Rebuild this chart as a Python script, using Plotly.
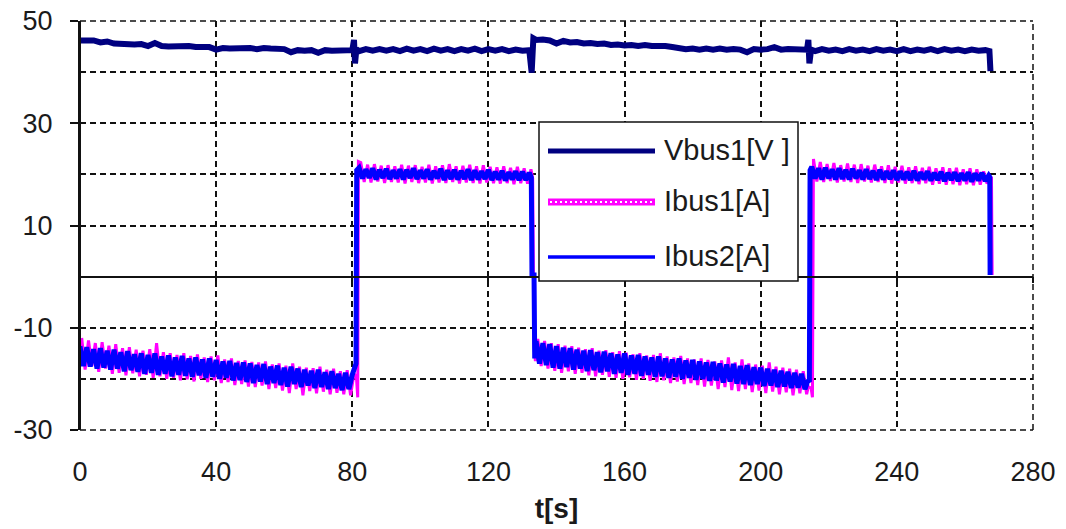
import plotly.graph_objects as go

# ---------------- data ----------------
X_TICKS = [0, 40, 80, 120, 160, 200, 240, 280]
Y_TICKS = [-30, -10, 10, 30, 50]
SERIES_NAMES = ["Vbus1[V ]", "Ibus1[A]", "Ibus2[A]"]

# Vbus1 : regular pieces (start time, step, values) and transition points
VBUS_A = [46.2, 46.1, 46.2, 45.8, 46.0, 45.6, 45.5, 45.6, 45.4, 45.5, 45.1, 45.7, 45.1, 45.0,
          45.1, 45.0, 45.1, 44.9, 45.0, 44.9, 44.4, 44.7, 44.6, 44.7, 44.6, 44.7, 44.5, 44.7,
          44.6, 44.6, 44.5, 43.9, 44.3, 44.2, 44.3, 43.8, 44.3, 44.2, 44.3, 44.2, 44.3]
VBUS_SPIKE1_T = [80.5, 80.8, 81.2]
VBUS_SPIKE1 = [46.3, 41.7, 44.5]
VBUS_B = [44.1, 44.5, 44.2, 44.5, 44.2, 44.5, 44.1, 44.6, 44.2, 44.5, 44.1, 44.6, 44.2, 44.5,
          44.1, 44.5, 44.2, 44.6, 44.1, 44.5, 44.2, 44.5, 44.1, 44.4, 44.2, 44.3]
VBUS_DROP1_T = [132.7, 133.2]
VBUS_DROP1 = [39.9, 46.6]
VBUS_C = [46.3, 46.4, 46.2, 45.6, 46.1, 45.8, 45.9, 45.6, 45.7, 45.5, 45.6, 45.3, 45.4, 45.2,
          45.3, 45.1, 45.3, 45.1, 45.2, 45.1, 44.9, 44.6, 44.5, 44.6, 44.4, 44.6, 44.4, 44.6,
          44.4, 44.5, 44.4, 43.9, 44.5, 44.4, 44.5, 44.9, 44.4, 44.5, 44.4, 44.4]
VBUS_SPIKE2_T = [213.6, 214.0, 214.3, 214.8]
VBUS_SPIKE2 = [44.4, 46.3, 41.7, 44.4]
VBUS_D = [44.1, 44.5, 44.2, 44.4, 44.1, 44.5, 44.2, 44.4, 44.1, 44.5, 44.2, 44.4, 44.1, 44.5,
          44.1, 44.4, 44.2, 44.5, 44.1, 44.5, 44.2, 44.4, 44.1, 44.4, 44.2, 44.3]
VBUS_END_T = [267.2, 267.5]
VBUS_END = [44.1, 40.2]

# Ibus2 (blue)
IBUS2_A = [-13.6, -17.5, -13.8, -17.6, -14.2, -18.0, -14.0, -17.8, -14.5, -18.2,
           -14.3, -18.0, -14.8, -18.5, -14.6, -18.3, -15.2, -18.6, -15.0, -19.0,
           -15.3, -18.8, -15.0, -19.2, -15.6, -19.0, -15.4, -19.5, -15.8, -19.2,
           -15.5, -19.4, -16.0, -19.6, -15.8, -19.3, -16.2, -19.8, -16.0, -19.6,
           -16.3, -20.0, -16.6, -19.8, -16.5, -20.3, -16.9, -20.2, -16.8, -20.6,
           -17.0, -20.8, -17.3, -20.5, -17.1, -21.0, -17.6, -20.8, -17.4, -21.2,
           -17.8, -21.5, -17.6, -21.0, -18.0, -21.6, -18.2, -21.3, -18.4, -21.8,
           -18.2, -21.6, -18.7, -22.0, -18.5, -21.8, -19.0, -22.2, -18.8, -22.0,
           -19.2]
IBUS2_JUMP1_T = [80.7, 81.1, 81.3]
IBUS2_JUMP1 = [-17.3, -17.0, 20.8]
IBUS2_B = [21.3, 19.2, 21.0, 19.3, 21.2, 19.0, 20.9, 19.3, 21.1, 19.1,
           20.8, 19.2, 21.0, 19.0, 20.9, 19.3, 21.2, 19.1, 20.8, 19.2,
           21.0, 19.0, 20.7, 19.2, 21.1, 18.9, 20.8, 19.1, 20.9, 19.0,
           20.7, 19.1, 21.0, 18.9, 20.8, 19.0, 20.6, 19.1, 20.9, 18.9,
           20.5, 19.0, 20.7, 18.8, 20.4, 19.0, 20.6, 18.9, 20.5, 18.9, 20.3]
IBUS2_DROP1_T = [132.6, 132.8, 133.4, 133.6]
IBUS2_DROP1 = [19.4, 0.3, 0.3, -16.0]
IBUS2_C = [-12.6, -17.0, -13.0, -17.3, -13.2, -17.8, -13.6, -18.0, -13.9, -17.7,
           -14.0, -18.2, -14.3, -18.0, -14.5, -18.5, -14.4, -18.3, -14.8, -18.7,
           -14.7, -18.5, -15.0, -19.0, -15.2, -18.8, -15.0, -19.2, -15.4, -19.0,
           -15.3, -19.4, -15.6, -19.2, -15.8, -19.6, -15.6, -19.5, -16.0, -19.8,
           -16.2, -19.6, -16.0, -20.0, -16.4, -19.8, -16.3, -20.2, -16.6, -20.0,
           -16.8, -20.4, -16.7, -20.3, -17.0, -20.7, -17.2, -20.5, -17.1, -20.9,
           -17.5, -21.0, -17.3, -21.2, -17.7, -21.0, -17.8, -21.4, -18.0, -21.3,
           -18.2, -21.6, -18.4, -21.5, -18.6, -21.8, -18.8, -21.7, -19.0, -22.0]
IBUS2_JUMP2_T = [213.8, 214.3, 214.5]
IBUS2_JUMP2 = [-20.5, -20.3, 20.8]
IBUS2_D = [21.5, 19.2, 21.2, 19.0, 21.3, 19.2, 21.0, 19.0, 21.2, 19.1,
           20.9, 19.0, 21.1, 19.2, 20.8, 19.0, 21.0, 19.1, 20.7, 18.9,
           20.9, 19.0, 20.6, 19.1, 20.8, 18.9, 20.6, 19.0, 20.5, 18.9,
           20.7, 18.8, 20.4, 19.0, 20.6, 18.8, 20.3, 18.9, 20.5, 18.7,
           20.3, 18.9, 20.4, 18.7, 20.2, 18.8, 20.4, 18.6, 20.2, 18.8,
           20.3, 18.7, 19.8]
IBUS2_END_T = [267.3, 267.4]
IBUS2_END = [19.5, 0.3]

# Ibus1 (magenta)
IBUS1_A = [-12.0, -18.2, -12.5, -17.5, -13.0, -18.6, -12.8, -18.0, -13.5, -19.0,
           -13.2, -18.8, -14.0, -19.3, -13.8, -18.9, -14.3, -19.5, -14.5, -19.2,
           -14.2, -19.8, -13.0, -19.5, -14.8, -20.0, -15.0, -19.8, -15.3, -20.3,
           -15.0, -20.1, -15.5, -20.5, -15.2, -20.0, -15.8, -20.6, -15.6, -20.3,
           -15.4, -20.8, -16.2, -20.6, -16.0, -21.2, -16.5, -21.0, -16.4, -21.5,
           -16.7, -21.6, -16.8, -21.3, -16.6, -22.0, -17.2, -21.8, -17.0, -22.3,
           -17.4, -22.8, -17.0, -22.0, -17.6, -23.2, -17.8, -22.4, -17.9, -22.8,
           -17.6, -22.5, -18.2, -23.0, -18.0, -22.7, -18.5, -23.0, -18.3, -23.2]
IBUS1_JUMP1_T = [80.5, 81.2, 81.6, 81.8]
IBUS1_JUMP1 = [-19.0, -19.5, -23.6, 22.5]
IBUS1_B = [22.3, 18.5, 21.9, 18.4, 22.0, 18.6, 21.7, 18.3, 21.8, 18.5,
           21.6, 18.4, 21.9, 18.2, 21.7, 18.5, 21.8, 18.3, 21.5, 18.4,
           21.9, 18.2, 21.6, 18.4, 21.8, 18.3, 22.0, 18.5, 21.6, 18.2,
           21.7, 18.4, 21.9, 18.3, 21.6, 18.2, 21.8, 18.4, 21.5, 18.3,
           21.4, 18.2, 21.6, 18.3, 21.3, 18.1, 21.5, 18.3, 21.2, 18.2, 21.0]
IBUS1_DROP1_T = [133.0, 133.4, 133.8]
IBUS1_DROP1 = [19.2, -14.0, -16.5]
IBUS1_C = [-12.2, -17.5, -12.6, -18.0, -13.0, -18.4, -13.2, -18.8, -13.5, -18.5,
           -13.6, -19.0, -13.9, -18.8, -14.2, -19.3, -14.0, -19.5, -14.5, -19.2,
           -14.4, -19.6, -14.8, -19.8, -14.6, -20.0, -14.9, -19.7, -15.2, -20.2,
           -15.0, -20.0, -15.4, -20.4, -15.3, -20.6, -15.0, -20.3, -15.6, -20.8,
           -15.8, -20.5, -15.5, -21.0, -16.0, -20.8, -16.2, -21.2, -16.0, -21.5,
           -16.3, -21.3, -16.6, -22.0, -16.4, -21.6, -15.8, -22.2, -16.8, -22.4,
           -16.2, -22.0, -17.0, -22.6, -17.2, -22.3, -17.4, -22.8, -16.8, -22.5,
           -17.6, -23.0, -17.8, -22.6, -18.0, -23.2, -18.2, -22.8, -18.5, -23.0]
IBUS1_JUMP2_T = [214.0, 214.8, 215.2, 215.3]
IBUS1_JUMP2 = [-21.5, -21.8, -23.6, 22.8]
IBUS1_D = [23.0, 18.6, 22.4, 18.5, 22.0, 18.7, 22.2, 18.4, 21.8, 18.6,
           22.1, 18.5, 21.9, 18.3, 22.0, 18.6, 21.7, 18.4, 21.9, 18.5,
           21.6, 18.3, 21.8, 18.2, 21.5, 18.4, 21.7, 18.2, 21.4, 18.3,
           21.6, 18.1, 21.3, 18.3, 21.5, 18.0, 21.2, 18.2, 21.4, 18.0,
           21.2, 18.1, 21.3, 17.9, 21.0, 18.1, 21.2, 17.9, 21.0, 18.0,
           20.6, 18.2]
IBUS1_END_T = [267.3, 267.8, 268.0]
IBUS1_END = [19.5, 19.3, 0.3]


def regular(t0, dt, vals):
    return [t0 + i * dt for i in range(len(vals))], list(vals)


def assemble(pieces):
    xs, ys = [], []
    for tx, vy in pieces:
        xs.extend(tx)
        ys.extend(vy)
    return xs, ys


vbus_x, vbus_y = assemble([
    regular(0, 2, VBUS_A), (VBUS_SPIKE1_T, VBUS_SPIKE1),
    regular(82, 2, VBUS_B), (VBUS_DROP1_T, VBUS_DROP1),
    regular(134, 2, VBUS_C), (VBUS_SPIKE2_T, VBUS_SPIKE2),
    regular(216, 2, VBUS_D), (VBUS_END_T, VBUS_END)])

ibus2_x, ibus2_y = assemble([
    regular(0, 1, IBUS2_A), (IBUS2_JUMP1_T, IBUS2_JUMP1),
    regular(82, 1, IBUS2_B), (IBUS2_DROP1_T, IBUS2_DROP1),
    regular(134, 1, IBUS2_C), (IBUS2_JUMP2_T, IBUS2_JUMP2),
    regular(215, 1, IBUS2_D), (IBUS2_END_T, IBUS2_END)])

ibus1_x, ibus1_y = assemble([
    regular(0.5, 1, IBUS1_A), (IBUS1_JUMP1_T, IBUS1_JUMP1),
    regular(82.5, 1, IBUS1_B), (IBUS1_DROP1_T, IBUS1_DROP1),
    regular(134.5, 1, IBUS1_C), (IBUS1_JUMP2_T, IBUS1_JUMP2),
    regular(215.5, 1, IBUS1_D), (IBUS1_END_T, IBUS1_END)])

# ---------------- styling ----------------
W, H = 1066, 529
ML, MR, MT, MB = 80, 33, 21, 99
PW, PH = W - ML - MR, H - MT - MB
FONT = "Liberation Sans, Arial, sans-serif"
TXT = "#1a1a1a"
NAVY, MAGENTA, BLUE = "#000080", "#FF00FF", "#0000FF"
GRID_DASH = "6px,4px"
GRID_COL = "#111"


def px_x(p):
    return (p - ML) / PW


def px_y(p):
    return (H - MB - p) / PH


fig = go.Figure()
fig.add_trace(go.Scatter(x=vbus_x, y=vbus_y, mode="lines", name=SERIES_NAMES[0],
                         line=dict(color=NAVY, width=6), showlegend=False))
fig.add_trace(go.Scatter(x=ibus1_x, y=ibus1_y, mode="lines", name=SERIES_NAMES[1],
                         line=dict(color=MAGENTA, width=3), showlegend=False))
fig.add_trace(go.Scatter(x=ibus2_x, y=ibus2_y, mode="lines", name=SERIES_NAMES[2],
                         line=dict(color=BLUE, width=5), showlegend=False))
# helper traces so the tick-only overlay axes get drawn
fig.add_trace(go.Scatter(x=[None], y=[None], xaxis="x2", showlegend=False, hoverinfo="skip"))
fig.add_trace(go.Scatter(x=[None], y=[None], xaxis="x3", showlegend=False, hoverinfo="skip"))

zero_pos = (0 - Y_TICKS[0]) / (Y_TICKS[-1] - Y_TICKS[0])

fig.update_layout(
    width=W, height=H,
    margin=dict(l=ML, r=MR, t=MT, b=MB, autoexpand=False),
    paper_bgcolor="white", plot_bgcolor="white",
    font=dict(family=FONT, size=27, color=TXT),
    showlegend=False,
    xaxis=dict(
        range=[0, 280], tickmode="array", tickvals=X_TICKS,
        ticktext=[str(v) for v in X_TICKS],
        ticks="", showline=False, zeroline=False,
        showgrid=True, gridcolor=GRID_COL, gridwidth=1.5, griddash=GRID_DASH,
        tickfont=dict(size=27, color=TXT), ticklabelstandoff=23,
        title=dict(text="<b>t[s]</b>", font=dict(size=28, color=TXT), standoff=12),
        automargin=False,
    ),
    xaxis2=dict(
        overlaying="x", matches="x", anchor="free", position=zero_pos,
        range=[0, 280], tickmode="array", tickvals=X_TICKS, showticklabels=False,
        ticks="outside", ticklen=6, tickwidth=1.5, tickcolor=GRID_COL,
        showgrid=False, zeroline=False, showline=True, linecolor=GRID_COL, linewidth=1.5,
    ),
    xaxis3=dict(
        overlaying="x", matches="x", anchor="free", position=zero_pos,
        range=[0, 280], tickmode="array", tickvals=X_TICKS, showticklabels=False,
        ticks="inside", ticklen=6, tickwidth=1.5, tickcolor=GRID_COL,
        showgrid=False, zeroline=False, showline=False,
    ),
    yaxis=dict(
        range=[-30, 50], tickmode="array", tickvals=Y_TICKS,
        ticktext=[str(v) for v in Y_TICKS],
        ticks="outside", ticklen=8, tickwidth=2, tickcolor=GRID_COL,
        showline=True, linecolor=GRID_COL, linewidth=2,
        zeroline=False,
        showgrid=True, gridcolor=GRID_COL, gridwidth=1.5, griddash=GRID_DASH,
        minor=dict(tickmode="linear", tick0=0, dtick=10, showgrid=True,
                   gridcolor=GRID_COL, gridwidth=1.5, griddash=GRID_DASH, ticklen=0),
        tickfont=dict(size=27, color=TXT), ticklabelstandoff=12,
        automargin=False,
    ),
)

# dashed top / right / bottom edges of the plot area, solid left axis line
for (x0, y0, x1, y1) in [(0, 1, 1, 1), (1, 0, 1, 1), (0, 0, 1, 0)]:
    fig.add_shape(type="line", xref="paper", yref="paper", layer="below",
                  x0=x0, y0=y0, x1=x1, y1=y1,
                  line=dict(color=GRID_COL, width=1.5, dash=GRID_DASH))
fig.add_shape(type="line", xref="paper", yref="paper", layer="above",
              x0=0, y0=0, x1=0, y1=1, line=dict(color=GRID_COL, width=2))

# ---------------- legend drawn as a boxed key ----------------
box = dict(x0=px_x(539), x1=px_x(798), y0=px_y(281), y1=px_y(122))
fig.add_shape(type="rect", xref="paper", yref="paper", layer="above",
              fillcolor="white", line=dict(color=GRID_COL, width=1.5), **box)
rows_py = [151, 202, 257]
styles = [dict(color=NAVY, width=5), dict(color=MAGENTA, width=7), dict(color=BLUE, width=3.5)]
for name, rp, st in zip(SERIES_NAMES, rows_py, styles):
    fig.add_shape(type="line", xref="paper", yref="paper", layer="above",
                  x0=px_x(548), x1=px_x(655), y0=px_y(rp), y1=px_y(rp), line=st)
    fig.add_annotation(xref="paper", yref="paper", x=px_x(662), y=px_y(rp - 1),
                       text=name, showarrow=False, xanchor="left", yanchor="middle",
                       font=dict(size=29, color=TXT, family=FONT))
# white dotted core for the magenta key line (marker-like look)
fig.add_shape(type="line", xref="paper", yref="paper", layer="above",
              x0=px_x(550), x1=px_x(653), y0=px_y(202), y1=px_y(202),
              line=dict(color="white", width=2, dash="2px,3px"))

fig.write_html("out.html", config={"displayModeBar": False},
               post_script="document.body.style.margin='0';document.body.style.overflow='hidden';")
